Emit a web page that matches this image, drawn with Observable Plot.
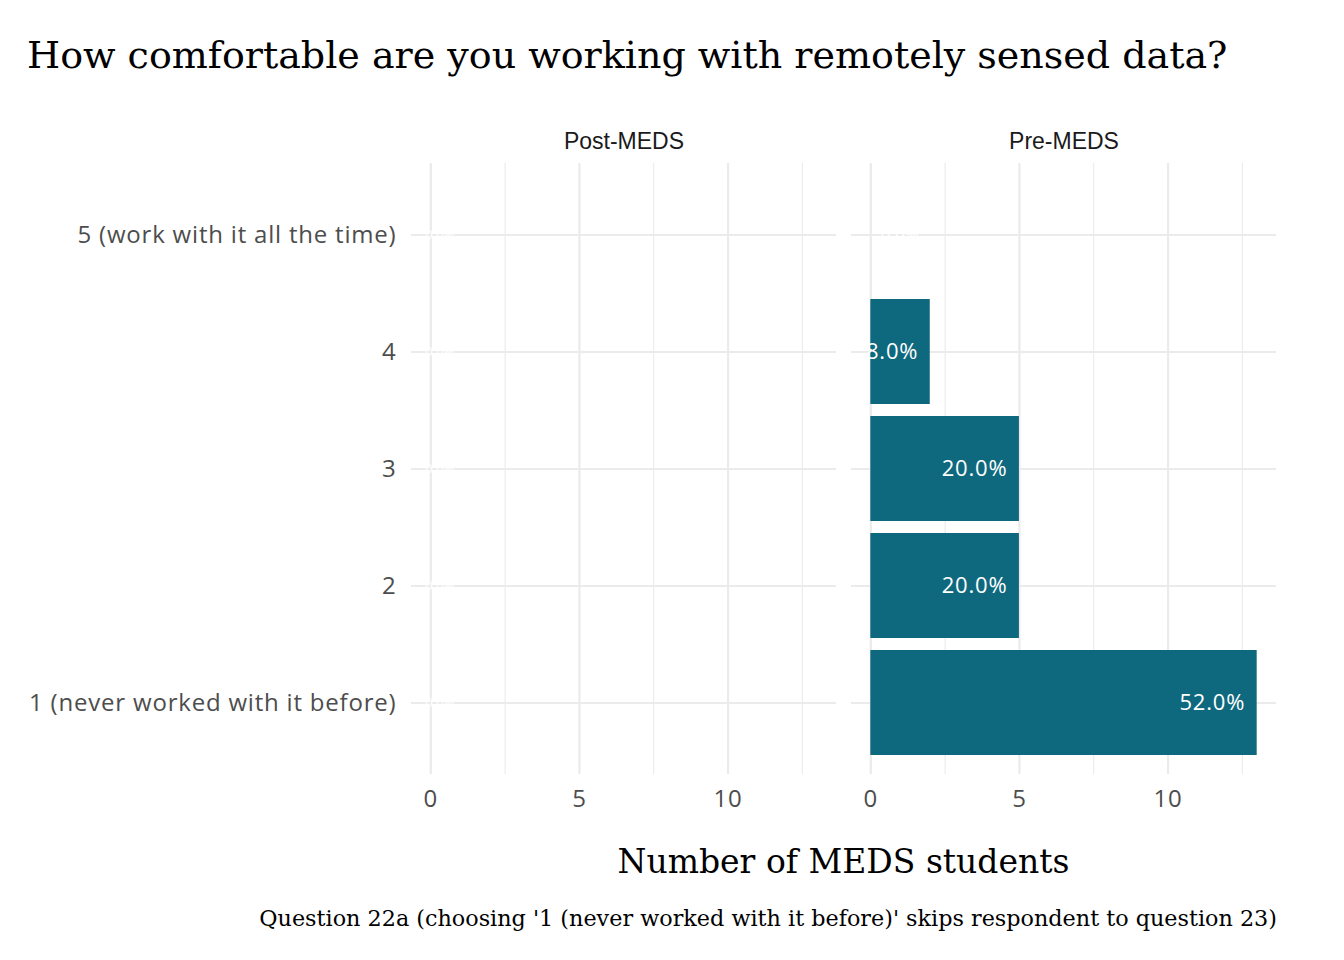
<!DOCTYPE html>
<html>
<head>
<meta charset="utf-8">
<script src="https://cdn.jsdelivr.net/npm/d3@7"></script>
<script src="https://cdn.jsdelivr.net/npm/@observablehq/plot@0.6"></script>
<style>
  html, body { margin: 0; padding: 0; background: #fff; }
  #wrap { width: 1344px; height: 960px; position: relative; overflow: hidden; }
  #title { height: 120px; box-sizing: border-box; padding: 33px 0 0 27px; font-family: "DejaVu Serif", serif; font-size: 38px; color: #000; line-height: 1.2; white-space: nowrap; }
  #xlab { position: absolute; left: 410px; width: 867px; top: 842px; text-align: center; font-family: "DejaVu Serif", serif; font-size: 33px; color: #000; white-space: nowrap; }
  #cap { position: absolute; right: 67px; top: 905px; text-align: right; font-family: "DejaVu Serif", serif; font-size: 22.3px; color: #000; white-space: nowrap; }
  .ylab text, .xlab text, .blab text { letter-spacing: 0.8px; }
</style>
</head>
<body>
<div id="wrap">
  <div id="title">How comfortable are you working with remotely sensed data?</div>
  <div id="chart"></div>
  <div id="xlab">Number of MEDS students</div>
  <div id="cap">Question 22a (choosing '1 (never worked with it before)' skips respondent to question 23)</div>
</div>
<script>
const categories = ["1 (never worked with it before)", "2", "3", "4", "5 (work with it all the time)"];
const groups = ["Post-MEDS", "Pre-MEDS"];
const postCounts = [0, 0, 0, 0, 0];
const preCounts = [13, 5, 5, 2, 0];
const postLabels = ["0.0%", "0.0%", "0.0%", "0.0%", "0.0%"];
const preLabels = ["52.0%", "20.0%", "20.0%", "8.0%", "0.0%"];
const xTicks = [0, 5, 10];
const xMinorTicks = [2.5, 7.5, 12.5];

const rows = [];
categories.forEach((c, i) => {
  rows.push({group: groups[0], answer: c, n: postCounts[i], label: postLabels[i]});
  rows.push({group: groups[1], answer: c, n: preCounts[i], label: preLabels[i]});
});
const nonzero = rows.filter(d => d.n > 0);
const zeroPost = rows.filter(d => d.n === 0 && d.group === groups[0]);
const zeroPre = rows.filter(d => d.n === 0 && d.group === groups[1]);

const grid = "#ebebeb";
const plot = Plot.plot({
  width: 1344,
  height: 700,
  marginTop: 43,
  marginBottom: 46,
  marginLeft: 410,
  marginRight: 67,
  style: {background: "transparent"},
  fx: {domain: groups, paddingInner: 0.034, paddingOuter: 0, label: null},
  x: {domain: [-0.65, 13.65], label: null},
  y: {domain: categories.slice().reverse(), paddingInner: 0.1, paddingOuter: 0.15, label: null},
  marks: [
    Plot.gridX(xMinorTicks, {stroke: grid, strokeOpacity: 1, strokeWidth: 1.1}),
    Plot.gridX(xTicks, {stroke: grid, strokeOpacity: 1, strokeWidth: 2.2}),
    Plot.gridY(categories, {stroke: grid, strokeOpacity: 1, strokeWidth: 2.2}),
    Plot.barX(nonzero, {fx: "group", y: "answer", x: "n", fill: "#0f697e"}),
    Plot.text(nonzero, {fx: "group", y: "answer", x: "n", text: "label", fill: "#ffffff", textAnchor: "end", dx: -12, fontSize: 22, fontFamily: "Open Sans", className: "blab"}),
    Plot.text(zeroPost, {fx: "group", y: "answer", x: "n", text: "label", fill: "#ffffff", textAnchor: "middle", dx: 9, fontSize: 13, fontFamily: "Open Sans"}),
    Plot.text(zeroPre, {fx: "group", y: "answer", x: "n", text: "label", fill: "#ffffff", textAnchor: "start", dx: 10, fontSize: 17, fontFamily: "Open Sans"}),
    Plot.axisFx({anchor: "top", tickSize: 0, tickPadding: 15, fontSize: 23, fontFamily: "Liberation Sans", color: "#1a1a1a", label: null}),
    Plot.axisX(xTicks, {anchor: "bottom", tickSize: 0, tickPadding: 15, fontSize: 24, fontFamily: "Open Sans", color: "#4d4d4d", label: null, className: "xlab"}),
    Plot.axisY({anchor: "left", tickSize: 0, tickPadding: 15, fontSize: 24, fontFamily: "Open Sans", color: "#4d4d4d", label: null, className: "ylab"})
  ]
});
document.getElementById("chart").appendChild(plot);
</script>
</body>
</html>
